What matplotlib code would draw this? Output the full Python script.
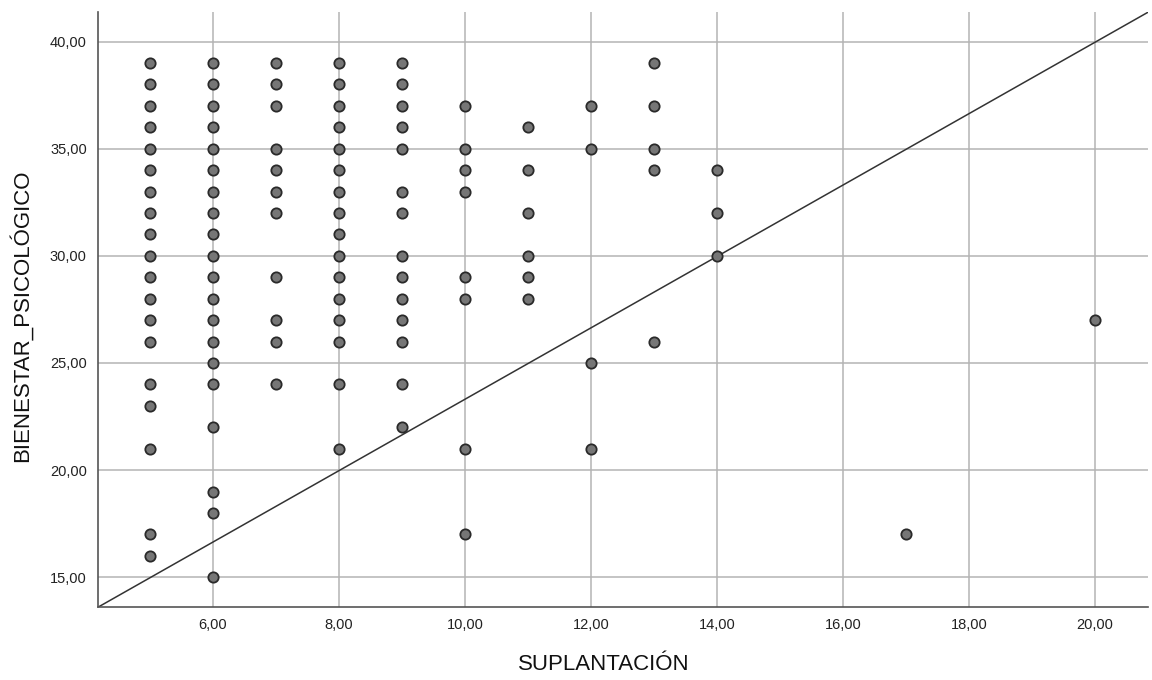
import matplotlib
matplotlib.use("Agg")
import matplotlib.pyplot as plt
from matplotlib.ticker import FuncFormatter, MultipleLocator

plt.rcParams['font.family'] = ['Liberation Sans', 'DejaVu Sans']

# SUPLANTACION value -> BIENESTAR_PSICOLOGICO values seen in that column
x5 = [39, 38, 37, 36, 35, 34, 33, 32, 31, 30, 29, 28, 27, 26, 24, 23, 21, 17, 16]
x6 = [39, 38, 37, 36, 35, 34, 33, 32, 31, 30, 29, 28, 27, 26, 25, 24, 22, 19, 18, 15]
x7 = [39, 38, 37, 35, 34, 33, 32, 29, 27, 26, 24]
x8 = [39, 38, 37, 36, 35, 34, 33, 32, 31, 30, 29, 28, 27, 26, 24, 21]
x9 = [39, 38, 37, 36, 35, 33, 32, 30, 29, 28, 27, 26, 24, 22]
x10 = [37, 35, 34, 33, 29, 28, 21, 17]
x11 = [36, 34, 32, 30, 29, 28]
x12 = [37, 35, 25, 21]
x13 = [39, 37, 35, 34, 26]
x14 = [34, 32, 30]
x17 = [17]
x20 = [27]

columns = {5: x5, 6: x6, 7: x7, 8: x8, 9: x9, 10: x10, 11: x11,
           12: x12, 13: x13, 14: x14, 17: x17, 20: x20}

xs, ys = [], []
for k, vals in columns.items():
    xs += [k] * len(vals)
    ys += vals

fig = plt.figure(figsize=(11.52, 6.8), dpi=100)
ax = fig.add_axes([0.085, 0.107, 0.9115, 0.875])

ax.set_xlim(4.175, 20.84)
ax.set_ylim(13.6, 41.37)
ax.xaxis.set_major_locator(MultipleLocator(2))
ax.yaxis.set_major_locator(MultipleLocator(5))
fmt = FuncFormatter(lambda v, p: f"{v:.2f}".replace('.', ','))
ax.xaxis.set_major_formatter(fmt)
ax.yaxis.set_major_formatter(fmt)

ax.grid(True, color='#b4b4b4', linewidth=1.1)
ax.set_axisbelow(True)
for s in ['top', 'right']:
    ax.spines[s].set_visible(False)
for s in ['left', 'bottom']:
    ax.spines[s].set_color('#555555')
    ax.spines[s].set_linewidth(1.2)
ax.tick_params(length=0, labelsize=10.5, colors='#222222', pad=8)

# reference diagonal across the plot area
ax.plot([0, 1], [0, 1], transform=ax.transAxes, color='#333333', linewidth=1.1, zorder=2)

ax.scatter(xs, ys, s=55, facecolor='#767676', edgecolor='#2a2a2a', linewidth=1.3, zorder=3)

ax.set_xlabel('SUPLANTACIÓN', fontsize=16, color='#111111')
ax.set_ylabel('BIENESTAR_PSICOLÓGICO', fontsize=16, color='#111111')
ax.xaxis.set_label_coords(0.482, -0.078)
ax.yaxis.set_label_coords(-0.062, 0.49)

fig.savefig('out.png', dpi=100, facecolor='white')
